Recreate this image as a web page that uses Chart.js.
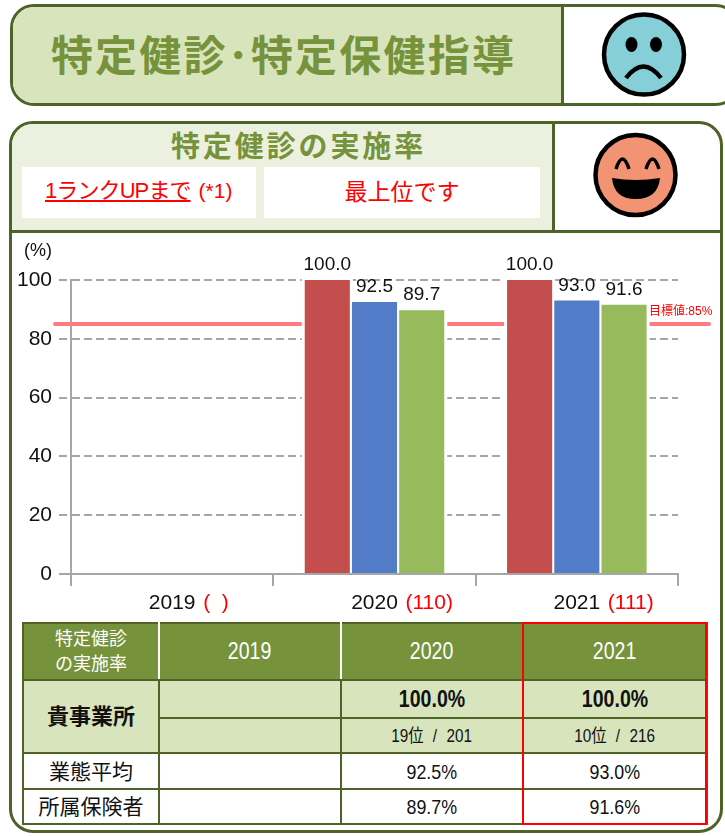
<!DOCTYPE html>
<html>
<head>
  <meta charset="UTF-8" />
  <title>特定健診・特定保健指導</title>
  <script src="https://cdn.jsdelivr.net/npm/chart.js"></script>
  <style>
    html, body { margin: 0; padding: 0; background: #fff; }
    body { width: 725px; height: 836px; overflow: hidden; position: relative;
      font-family: "Liberation Sans", "Noto Sans CJK JP", sans-serif; }
    .abs { position: absolute; box-sizing: border-box; }
    .panel { border: 3px solid #4f6228; border-radius: 24px; overflow: hidden; background: #fff; }
    .center { display: flex; align-items: center; justify-content: center; white-space: nowrap; }
    #chartBox { left: 0; top: 232px; width: 725px; height: 385px; }
    table { border-collapse: collapse; table-layout: fixed; left: 22px; top: 622px; width: 684px; }
    td { border: 2px solid #4f6228; padding: 0; text-align: center; color: #111; font-size: 21px; line-height: 1; }
    td .nar { display: inline-block; transform: scaleX(0.85); white-space: nowrap; }
    tr.head td { background: #76933c; color: #fff; font-size: 23px; border-left-color: #fff; border-right-color: #fff;
      border-top-color: #4f6228; }
    tr.head td:first-child { font-size: 18px; line-height: 25px; border-left-color: #4f6228; }
    tr.head td:last-child { border-right-color: #4f6228; }
    td.own { background: #d8e4bc; }
    td.name { font-size: 21px; }
  </style>
</head>
<body>
  <div class="abs panel" style="left:10px;top:4px;width:730px;height:102px;"></div>
  <div class="abs" style="left:13px;top:7px;width:548px;height:96px;background:#d8e4bc;border-radius:21px 0 0 21px;"></div>
  <div class="abs" style="left:561px;top:5px;width:3px;height:100px;background:#4f6228;"></div>
  <div class="abs center" style="left:13px;top:4px;width:541px;height:96px;color:#76933c;font-weight:bold;font-size:42px;letter-spacing:2.2px;">特定健診･特定保健指導</div>
  <svg class="abs" style="left:595px;top:5px;" width="100" height="100" viewBox="0 0 100 100">
    <circle cx="49" cy="49.5" r="40" fill="#86cfd9" stroke="#000" stroke-width="4.5"/>
    <ellipse cx="36.5" cy="39.5" rx="6" ry="7.5"/><ellipse cx="61" cy="39.5" rx="6" ry="7.5"/>
    <path d="M31 73 Q48.5 50 66 73" fill="none" stroke="#000" stroke-width="4.5"/>
  </svg>

  <div class="abs panel" style="left:9px;top:121px;width:714px;height:712px;"></div>
  <div class="abs" style="left:12px;top:124px;width:541px;height:106px;background:#ebf1de;border-radius:21px 0 0 0;"></div>
  <div class="abs" style="left:552px;top:122px;width:3px;height:108px;background:#4f6228;"></div>
  <div class="abs" style="left:10px;top:230px;width:712px;height:3px;background:#4f6228;"></div>
  <div class="abs center" style="left:12px;top:124px;width:573px;height:40px;color:#76933c;font-weight:bold;font-size:29px;letter-spacing:2.9px;">特定健診の実施率</div>
  <div class="abs" style="left:22px;top:167px;width:234px;height:51px;background:#fff;"></div>
  <div class="abs" style="left:264px;top:167px;width:276px;height:51px;background:#fff;"></div>
  <div class="abs" style="left:45px;top:177px;color:#f00;white-space:nowrap;line-height:28px;">
    <span style="font-size:22px;text-decoration:underline;letter-spacing:-0.9px;">1ランクUPまで</span><span style="font-size:21px;margin-left:8px;">(*1)</span>
  </div>
  <div class="abs center" style="left:264px;top:164px;width:276px;height:51px;color:#f00;font-size:23px;">最上位です</div>
  <svg class="abs" style="left:586px;top:125px;" width="100" height="100" viewBox="0 0 100 100">
    <circle cx="49.5" cy="50" r="40" fill="#f29474" stroke="#000" stroke-width="4.5"/>
    <path d="M30 44 Q36.5 24 43 44 M60 44 Q66.5 24 73 44" fill="none" stroke="#000" stroke-width="3.5"/>
    <path d="M26 53 Q49.5 57 74 53 Q72 74 49.5 74 Q28 74 26 53 Z"/>
  </svg>

  <div class="abs" id="chartBox"><canvas id="chart" width="725" height="385"></canvas></div>

  <table class="abs" id="rateTable">
    <colgroup><col style="width:136px"><col style="width:182px"><col style="width:182px"><col style="width:184px"></colgroup>
  </table>
  <div class="abs" style="left:522px;top:622px;width:185px;height:203px;border:2px solid #f00;"></div>

  <script>
    const categories = ['2019', '2020', '2021'];
    const counts = ['  ', '110', '111'];
    const ownRates = [null, 100.0, 100.0];
    const industryRates = [null, 92.5, 93.0];
    const insurerRates = [null, 89.7, 91.6];
    const ownRanks = ['', '19位 / 201', '10位 / 216'];
    const yTicks = [0, 20, 40, 60, 80, 100];
    const target = 85;

    const numFont = '"Liberation Sans", "Noto Sans CJK JP", sans-serif';

    // 表
    const fmt = v => v === null ? '' : v.toFixed(1) + '%';
    const nar = t => `<span class="nar">${t}</span>`;
    const cells = arr => arr.map(t => `<td>${nar(t)}</td>`).join('');
    document.getElementById('rateTable').insertAdjacentHTML('beforeend', `
      <tr class="head" style="height:57px"><td>特定健診<br>の実施率</td>${cells(categories)}</tr>
      <tr style="height:38px"><td class="own" rowspan="2" style="font-weight:bold;font-size:22px;">貴事業所</td>
        ${ownRates.map(v => `<td class="own" style="font-weight:bold;font-size:23px">${nar(fmt(v))}</td>`).join('')}</tr>
      <tr style="height:35px">${ownRanks.map(t => `<td class="own" style="font-size:18px;word-spacing:6px">${nar(t)}</td>`).join('')}</tr>
      <tr style="height:36px"><td class="name">業態平均</td>${cells(industryRates.map(fmt))}</tr>
      <tr style="height:35px"><td class="name">所属保険者</td>${cells(insurerRates.map(fmt))}</tr>`);

    // 目標線、棒の周りの白抜き、数値ラベル
    const decorations = {
      id: 'decorations',
      beforeDatasetsDraw(chart) {
        const { ctx, scales: { y } } = chart;
        const ty = y.getPixelForValue(target);
        ctx.save();
        ctx.strokeStyle = '#ff7c80';
        ctx.lineWidth = 4;
        ctx.lineCap = 'round';
        ctx.beginPath();
        ctx.moveTo(55, ty);
        ctx.lineTo(709, ty);
        ctx.stroke();
        ctx.fillStyle = '#fff';
        chart.data.datasets.forEach((ds, i) => {
          chart.getDatasetMeta(i).data.forEach((bar, j) => {
            if (ds.data[j] === null) return;
            ctx.fillRect(bar.x - bar.width / 2 - 3, bar.y - 1, bar.width + 6, bar.base - bar.y);
          });
        });
        ctx.restore();
      },
      afterDatasetsDraw(chart) {
        const { ctx, scales: { x, y } } = chart;
        ctx.save();
        ctx.textAlign = 'center';
        ctx.textBaseline = 'alphabetic';
        ctx.fillStyle = '#111';
        ctx.font = '19px ' + numFont;
        chart.data.datasets.forEach((ds, i) => {
          chart.getDatasetMeta(i).data.forEach((bar, j) => {
            if (ds.data[j] === null) return;
            ctx.fillText(ds.data[j].toFixed(1), bar.x, bar.y - 10);
          });
        });
        // 件数（赤）
        ctx.textAlign = 'left';
        ctx.fillStyle = '#f00';
        ctx.font = '21px ' + numFont;
        counts.forEach((c, i) => {
          ctx.fillText('(' + c + ')', x.getPixelForTick(i) + 31, 377);
        });
        // 単位、目標値
        ctx.fillStyle = '#111';
        ctx.font = '18px ' + numFont;
        ctx.fillText('(%)', 24, 24);
        ctx.fillStyle = '#f00';
        ctx.font = '12px ' + numFont;
        ctx.fillText('目標値:' + target + '%', 649, y.getPixelForValue(target) - 9);
        ctx.restore();
      }
    };

    new Chart(document.getElementById('chart').getContext('2d'), {
      type: 'bar',
      data: {
        labels: categories,
        datasets: [
          { label: '貴事業所', data: ownRates, backgroundColor: '#c44d4d' },
          { label: '業態平均', data: industryRates, backgroundColor: '#527cc8' },
          { label: '所属保険者', data: insurerRates, backgroundColor: '#97ba5d' }
        ]
      },
      options: {
        responsive: false,
        animation: false,
        categoryPercentage: 0.7,
        barPercentage: 0.955,
        layout: { padding: { top: 48, right: 47, left: 0, bottom: 0 } },
        plugins: { legend: { display: false }, tooltip: { enabled: false } },
        scales: {
          x: {
            afterFit: s => { s.height = 43; },
            border: { color: '#a6a6a6', width: 2 },
            grid: { offset: true, drawOnChartArea: false, color: '#a6a6a6', lineWidth: 2, tickLength: 12 },
            ticks: { color: '#111', font: { size: 21, family: numFont }, padding: 5, maxRotation: 0 }
          },
          y: {
            min: 0,
            max: 100,
            afterFit: s => { s.width = 71; },
            afterBuildTicks: s => { s.ticks = yTicks.map(value => ({ value })); },
            border: { color: '#a6a6a6', width: 2, dash: ctx => ctx.tick && ctx.tick.value === 0 ? [] : [8, 4] },
            grid: {
              color: '#a6a6a6',
              lineWidth: 2,
              tickLength: 12,
              tickColor: '#a6a6a6',
              tickBorderDash: ctx => ctx.tick && ctx.tick.value === 0 ? [] : [8, 4]
            },
            ticks: { color: '#111', font: { size: 21, family: numFont }, padding: 7 }
          }
        }
      },
      plugins: [decorations]
    });
  </script>
</body>
</html>
